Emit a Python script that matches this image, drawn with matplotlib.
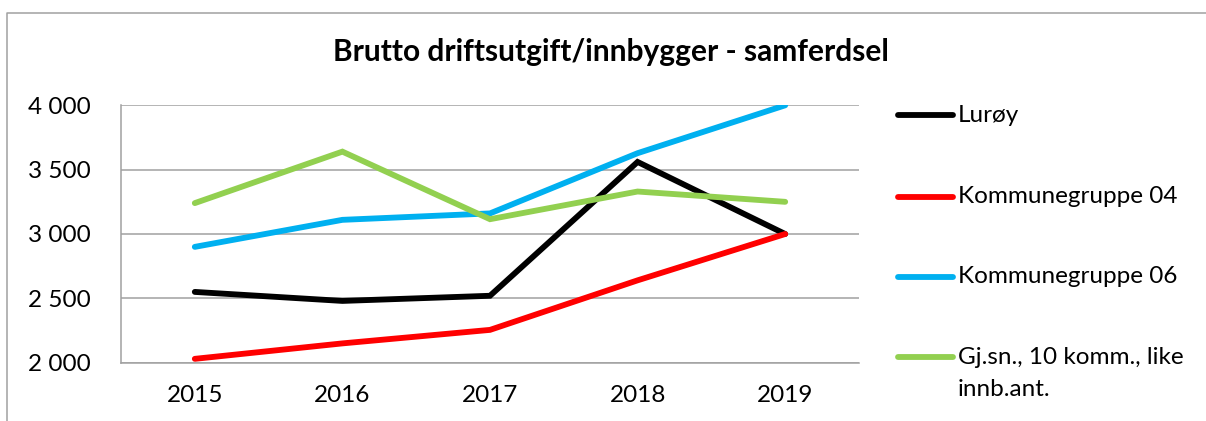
import matplotlib
matplotlib.use("Agg")
import matplotlib.pyplot as plt
from matplotlib.lines import Line2D

plt.rcParams['font.family'] = ['Lato', 'DejaVu Sans']

years = ["2015", "2016", "2017", "2018", "2019"]
luroy = [2550, 2480, 2520, 3560, 3000]
kg04 = [2030, 2150, 2255, 2640, 3000]
kg06 = [2900, 3110, 3160, 3628, 4000]
gjsn = [3240, 3640, 3115, 3330, 3250]
series_names = ["Lurøy", "Kommunegruppe 04", "Kommunegruppe 06",
                "Gj.sn., 10 komm., like\ninnb.ant."]
colors = ["#000000", "#FF0000", "#00B0F0", "#92D050"]
yticks = [2000, 2500, 3000, 3500, 4000]
ytick_labels = ["2 000", "2 500", "3 000", "3 500", "4 000"]
title = "Brutto driftsutgift/innbygger - samferdsel"

W, H = 1206, 421
FS = 17.5
LW = 4.2
fig = plt.figure(figsize=(W / 100, H / 100), dpi=100)
ax = fig.add_axes([121 / W, 1 - 362.7 / H, (859 - 121) / W, (362.7 - 105.3) / H])

x = list(range(len(years)))
for vals, c in zip([luroy, kg04, kg06, gjsn], colors):
    ax.plot(x, vals, color=c, lw=LW, solid_capstyle='round',
            solid_joinstyle='miter', zorder=3)

ax.set_xlim(-0.5, len(years) - 0.5)
ax.set_ylim(2000, 4000)
ax.set_yticks(yticks)
ax.set_yticklabels(ytick_labels)
ax.set_xticks(x)
ax.set_xticklabels(years)
ax.tick_params(axis='both', length=0, labelsize=FS, colors='black')
ax.tick_params(axis='y', pad=22)
ax.tick_params(axis='x', pad=16)
ax.grid(axis='y', color='#A0A0A0', lw=1.1, zorder=1)
for s in ['top', 'right']:
    ax.spines[s].set_visible(False)
for s in ['left', 'bottom']:
    ax.spines[s].set_color('#A0A0A0')
    ax.spines[s].set_linewidth(1.1)

fig.text(611 / W, 1 - 52 / H, title, ha='center', va='center',
         fontsize=21.5, fontweight='bold')

# legend
ys = [115, 196.7, 276.7, 357]
for name, c, yy in zip(series_names, colors, ys):
    fy = 1 - yy / H
    fig.add_artist(Line2D([898 / W, 953 / W], [fy, fy], color=c, lw=LW,
                          solid_capstyle='round', transform=fig.transFigure))
    lines = name.split('\n')
    fig.text(958 / W, fy, lines[0], ha='left', va='center', fontsize=FS)
    if len(lines) > 1:
        fig.text(958 / W, 1 - 390 / H, lines[1], ha='left', va='center', fontsize=FS)

# outer chart border
fig.add_artist(Line2D([7 / W, 7 / W, 1.0], [0, 1 - 13 / H, 1 - 13 / H],
                      color='#A0A0A0', lw=1.1, transform=fig.transFigure))

fig.savefig("out.png", dpi=100)
